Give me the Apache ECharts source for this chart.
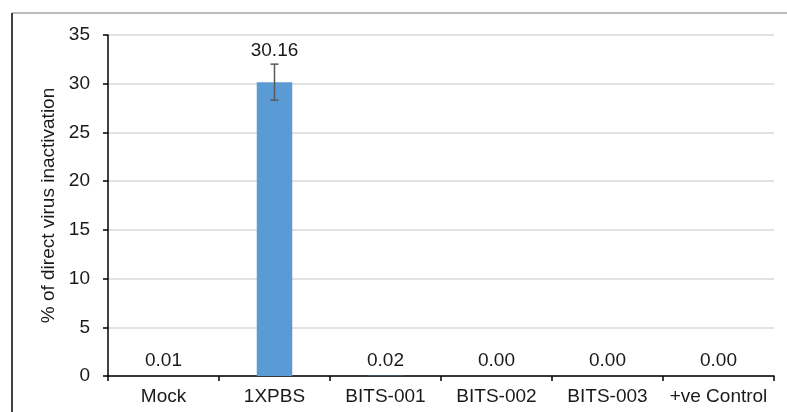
<!DOCTYPE html>
<html><head><meta charset="utf-8">
<script src="https://cdn.jsdelivr.net/npm/echarts@6/dist/echarts.min.js"></script>
<style>html,body{margin:0;padding:0;background:#fff}#c{width:787px;height:412px}</style>
</head><body><div id="c"></div>
<script>
const categories = ['Mock', '1XPBS', 'BITS-001', 'BITS-002', 'BITS-003', '+ve Control'];
const values = [0.01, 30.16, 0.02, 0.00, 0.00, 0.00];
const errors = [0, 1.85, 0, 0, 0, 0];
const yTicks = [0, 5, 10, 15, 20, 25, 30, 35];

const font = '"Liberation Sans", Arial, sans-serif';
const chart = echarts.init(document.getElementById('c'), null, {renderer: 'canvas'});

const barData = values.map((v, i) => ({
  value: v,
  label: {distance: errors[i] > 0 ? 22 : 6}
}));
const errData = values.map((v, i) => [i, v - errors[i], v + errors[i], errors[i]]);

chart.setOption({
  animation: false,
  textStyle: {fontFamily: font},
  grid: {left: 108, right: 13, top: 35, bottom: 36},
  graphic: [
    {type: 'line', shape: {x1: 12, y1: 13, x2: 787, y2: 13}, style: {stroke: '#a6a6a6', lineWidth: 1.5}},
    {type: 'line', shape: {x1: 12, y1: 13, x2: 12, y2: 412}, style: {stroke: '#000', lineWidth: 1.5}}
  ],
  xAxis: {
    type: 'category',
    data: categories,
    axisLine: {lineStyle: {color: '#000', width: 1.5}},
    axisTick: {show: true, length: 5, lineStyle: {color: '#000', width: 1.5}},
    axisLabel: {color: '#1a1a1a', fontSize: 19, fontFamily: font, margin: 11, interval: 0},
    splitLine: {show: false}
  },
  yAxis: {
    type: 'value',
    min: yTicks[0], max: yTicks[yTicks.length - 1], interval: yTicks[1] - yTicks[0],
    name: '% of direct virus inactivation',
    nameLocation: 'middle',
    nameGap: 46,
    nameTextStyle: {color: '#1a1a1a', fontSize: 19, fontFamily: font},
    axisLine: {show: true, lineStyle: {color: '#000', width: 1.5}},
    axisTick: {show: true, length: 5, lineStyle: {color: '#000', width: 1.5}},
    axisLabel: {color: '#1a1a1a', fontSize: 19, fontFamily: font, margin: 18},
    splitLine: {show: true, lineStyle: {color: '#d9d9d9', width: 1.5}}
  },
  series: [
    {
      type: 'bar',
      data: barData,
      barWidth: '32%',
      itemStyle: {color: '#5b9bd5'},
      label: {
        show: true, position: 'top', color: '#1a1a1a', fontSize: 19, fontFamily: font,
        formatter: p => Number(p.value).toFixed(2)
      },
      z: 2
    },
    {
      type: 'custom',
      data: errData,
      z: 3,
      renderItem: function (params, api) {
        if (api.value(3) <= 0) return;
        const x = api.value(0);
        const lo = api.coord([x, api.value(1)]);
        const hi = api.coord([x, api.value(2)]);
        const cap = 4;
        const st = {stroke: '#595959', lineWidth: 1.5};
        return {
          type: 'group',
          children: [
            {type: 'line', shape: {x1: lo[0], y1: lo[1], x2: hi[0], y2: hi[1]}, style: st},
            {type: 'line', shape: {x1: lo[0] - cap, y1: lo[1], x2: lo[0] + cap, y2: lo[1]}, style: st},
            {type: 'line', shape: {x1: hi[0] - cap, y1: hi[1], x2: hi[0] + cap, y2: hi[1]}, style: st}
          ]
        };
      }
    }
  ]
});
</script></body></html>
